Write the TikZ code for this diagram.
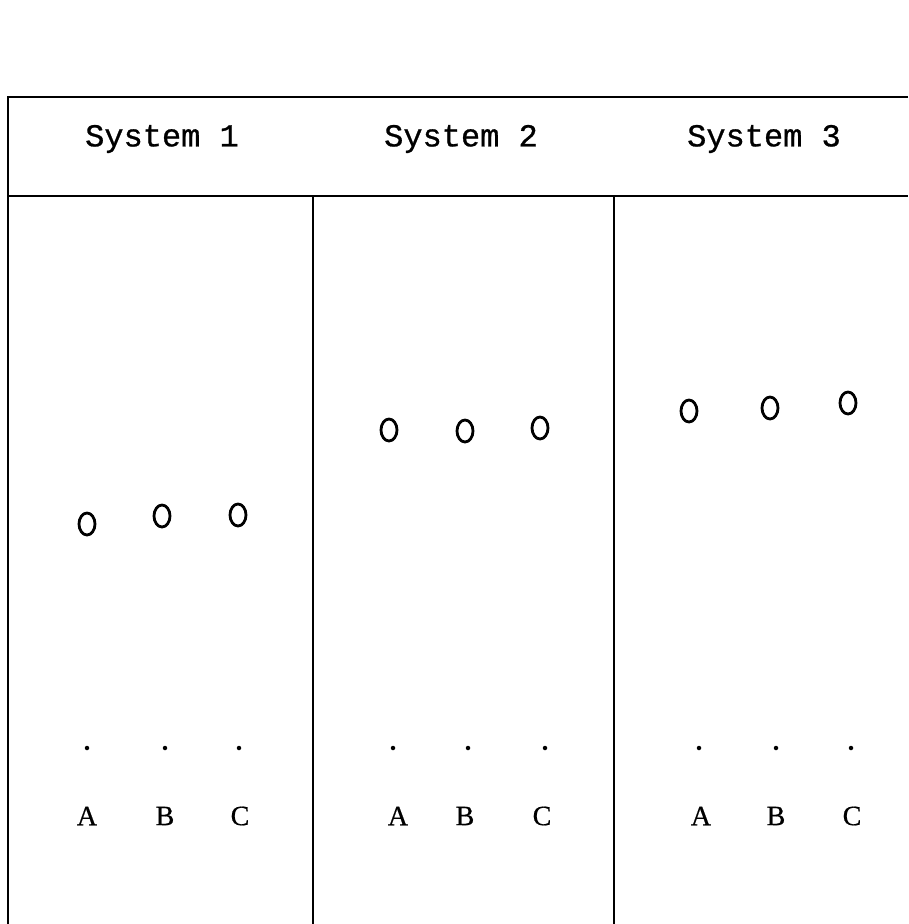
\documentclass[tikz,border=0pt]{standalone}
\usepackage{fontspec}
\setmainfont{Liberation Serif}[FakeBold=0.6]
\setmonofont{Liberation Mono}[FakeBold=0.8]
\usetikzlibrary{shapes.geometric}
\tikzstyle{frame} = [line width=1.8pt, black]
\tikzstyle{header} = [font=\ttfamily\fontsize{32}{32}\selectfont, inner sep=0pt]
\tikzstyle{ring} = [ellipse, draw=black, line width=2.8pt,
  minimum width=16pt, minimum height=22pt, inner sep=0pt]
\tikzstyle{dot} = [circle, fill=black, minimum size=4.5pt, inner sep=0pt]
\tikzstyle{label} = [font=\fontsize{28}{28}\selectfont, inner sep=0pt]

\begin{document}
\begin{tikzpicture}[x=1pt, y=-1pt]
\useasboundingbox (0,0) rectangle (908,924);

%% ---- FRAME ----
\coordinate (tl) at (8,97);
\coordinate (tr) at (908,97);
\coordinate (ml) at (8,196);
\coordinate (mr) at (908,196);
\coordinate (bl) at (8,924);
\coordinate (d1t) at (313,196);
\coordinate (d1b) at (313,924);
\coordinate (d2t) at (614,196);
\coordinate (d2b) at (614,924);

\draw[frame] (tr) -- (tl) -- (bl);
\draw[frame] (ml) -- (mr);
\draw[frame] (d1t) -- (d1b);
\draw[frame] (d2t) -- (d2b);

%% ---- HEADERS ----
\node (sys1) [header] at (162,139) {System 1};
\node (sys2) [header] at (461,139) {System 2};
\node (sys3) [header] at (764,139) {System 3};

%%=============================================================
%% SYSTEM 1
%%=============================================================
\node (r1a) [ring] at (87,524) {};
\node (r1b) [ring] at (162,516) {};
\node (r1c) [ring] at (238,515) {};

\node (d1a) [dot] at (87,748) {};
\node (d1b) [dot] at (165,748) {};
\node (d1c) [dot] at (239,748) {};

\node (l1a) [label] at (87,816) {A};
\node (l1b) [label] at (165,816) {B};
\node (l1c) [label] at (240,816) {C};

%%=============================================================
%% SYSTEM 2
%%=============================================================
\node (r2a) [ring] at (389,430) {};
\node (r2b) [ring] at (465,431) {};
\node (r2c) [ring] at (540,428) {};

\node (d2a) [dot] at (393,748) {};
\node (d2b) [dot] at (468,748) {};
\node (d2c) [dot] at (545,748) {};

\node (l2a) [label] at (398,816) {A};
\node (l2b) [label] at (465,816) {B};
\node (l2c) [label] at (542,816) {C};

%%=============================================================
%% SYSTEM 3
%%=============================================================
\node (r3a) [ring] at (689,411) {};
\node (r3b) [ring] at (770,408) {};
\node (r3c) [ring] at (848,403) {};

\node (d3a) [dot] at (699,748) {};
\node (d3b) [dot] at (776,748) {};
\node (d3c) [dot] at (851,748) {};

\node (l3a) [label] at (701,816) {A};
\node (l3b) [label] at (776,816) {B};
\node (l3c) [label] at (852,816) {C};

\end{tikzpicture}
\end{document}
